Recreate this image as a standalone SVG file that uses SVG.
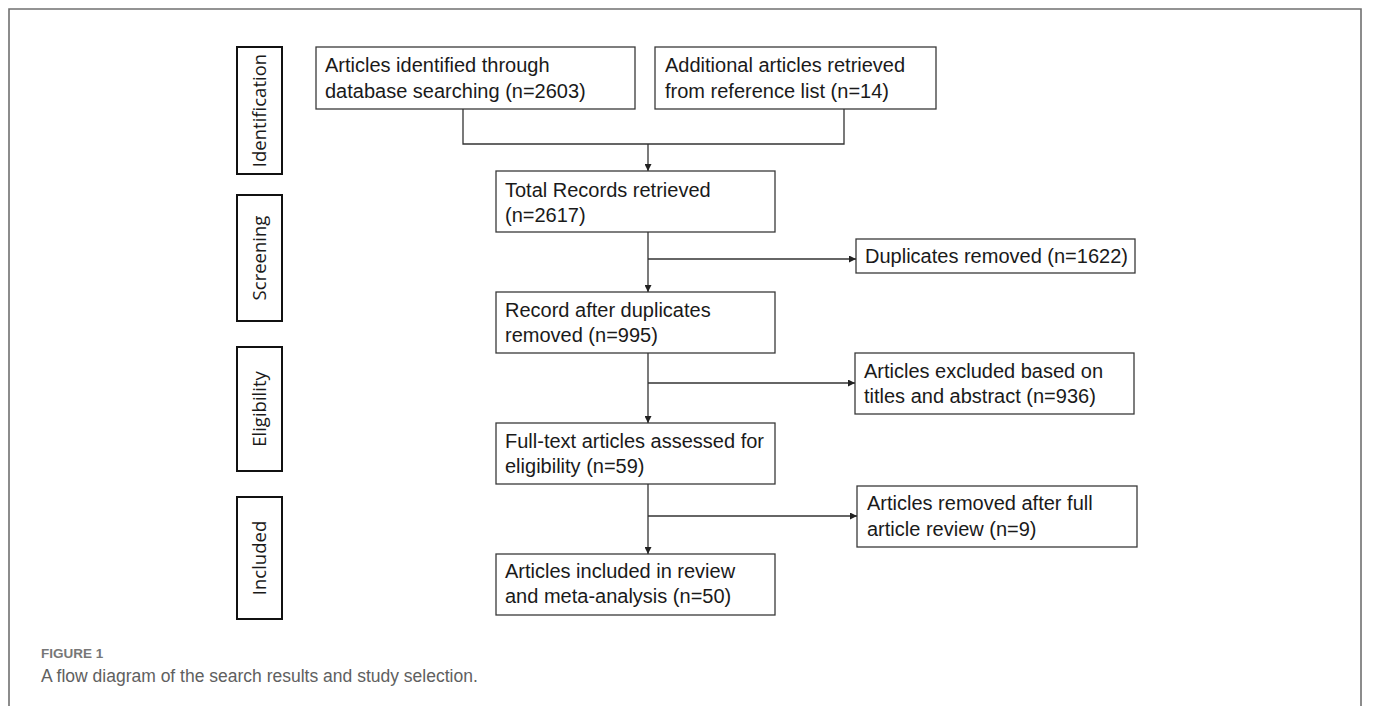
<svg xmlns="http://www.w3.org/2000/svg" width="1375" height="706" viewBox="0 0 1375 706">
<style>
.frame{fill:none;stroke:#707070;stroke-width:1.6}
.box{fill:#fff;stroke:#3a3a3a;stroke-width:1.3}
.lab{fill:#fff;stroke:#111;stroke-width:2}
.t{font-family:"Liberation Sans",Arial,sans-serif;font-size:20px;fill:#1a1a1a}
.lt{font-family:"Open Sans","Liberation Sans",sans-serif;font-size:18.5px;fill:#1a1a1a;text-anchor:middle}
.c{fill:none;stroke:#333;stroke-width:1.3}
.fig{font-family:"Liberation Sans",Arial,sans-serif;font-size:13.5px;font-weight:bold;fill:#777}
.cap{font-family:"Liberation Sans",Arial,sans-serif;font-size:17.5px;fill:#606060}
</style>
<defs>
<marker id="ah" viewBox="0 0 10 10" refX="10" refY="5" markerWidth="7" markerHeight="7" markerUnits="userSpaceOnUse" orient="auto">
<path d="M0,0 L10,5 L0,10 Z" fill="#222"/>
</marker>
</defs>
<rect width="1375" height="706" fill="#fff"/>
<path class="frame" d="M9,720 V9 H1361 V720"/>

<g id="label-identification"><rect class="lab" x="237" y="47" width="45" height="127"/><text class="lt" transform="translate(266,110.5) rotate(-90)">Identification</text></g>
<g id="label-screening"><rect class="lab" x="237" y="195" width="45" height="126"/><text class="lt" transform="translate(266,258) rotate(-90)">Screening</text></g>
<g id="label-eligibility"><rect class="lab" x="237" y="347" width="45" height="124"/><text class="lt" transform="translate(266,409) rotate(-90)">Eligibility</text></g>
<g id="label-included"><rect class="lab" x="237" y="497" width="45" height="122"/><text class="lt" transform="translate(266,558) rotate(-90)">Included</text></g>

<g id="n-database"><rect class="box" x="316" y="47" width="319" height="62"/><text class="t" x="325" y="72">Articles identified through</text><text class="t" x="325" y="98">database searching (n=2603)</text></g>
<g id="n-additional"><rect class="box" x="655" y="47" width="281" height="62"/><text class="t" x="665" y="72">Additional articles retrieved</text><text class="t" x="665" y="98">from reference list (n=14)</text></g>
<g id="n-total"><rect class="box" x="496" y="171" width="279" height="61"/><text class="t" x="505" y="197">Total Records retrieved</text><text class="t" x="505" y="222">(n=2617)</text></g>
<g id="n-duplicates"><rect class="box" x="856" y="239" width="279" height="34"/><text class="t" x="865" y="263">Duplicates removed (n=1622)</text></g>
<g id="n-record"><rect class="box" x="496" y="292" width="279" height="61"/><text class="t" x="505" y="317">Record after duplicates</text><text class="t" x="505" y="342">removed (n=995)</text></g>
<g id="n-excluded"><rect class="box" x="855" y="353" width="279" height="61"/><text class="t" x="864" y="378">Articles excluded based on</text><text class="t" x="864" y="403">titles and abstract (n=936)</text></g>
<g id="n-fulltext"><rect class="box" x="496" y="423" width="279" height="61"/><text class="t" x="505" y="448">Full-text articles assessed for</text><text class="t" x="505" y="473">eligibility (n=59)</text></g>
<g id="n-removed"><rect class="box" x="857" y="486" width="280" height="61"/><text class="t" x="867" y="510">Articles removed after full</text><text class="t" x="867" y="536">article review (n=9)</text></g>
<g id="n-included"><rect class="box" x="496" y="554" width="279" height="61"/><text class="t" x="505" y="578">Articles included in review</text><text class="t" x="505" y="603">and meta-analysis (n=50)</text></g>

<g id="connectors">
<path class="c" d="M463,109 V144 H844 V109"/>
<path class="c" d="M648,144 V171" marker-end="url(#ah)"/>
<path class="c" d="M648,232 V292" marker-end="url(#ah)"/>
<path class="c" d="M648,259 H856" marker-end="url(#ah)"/>
<path class="c" d="M648,353 V423" marker-end="url(#ah)"/>
<path class="c" d="M648,383 H855" marker-end="url(#ah)"/>
<path class="c" d="M648,484 V554" marker-end="url(#ah)"/>
<path class="c" d="M648,516 H857" marker-end="url(#ah)"/>
</g>

<text class="fig" x="41" y="658">FIGURE 1</text>
<text class="cap" x="41" y="682">A flow diagram of the search results and study selection.</text>
</svg>
